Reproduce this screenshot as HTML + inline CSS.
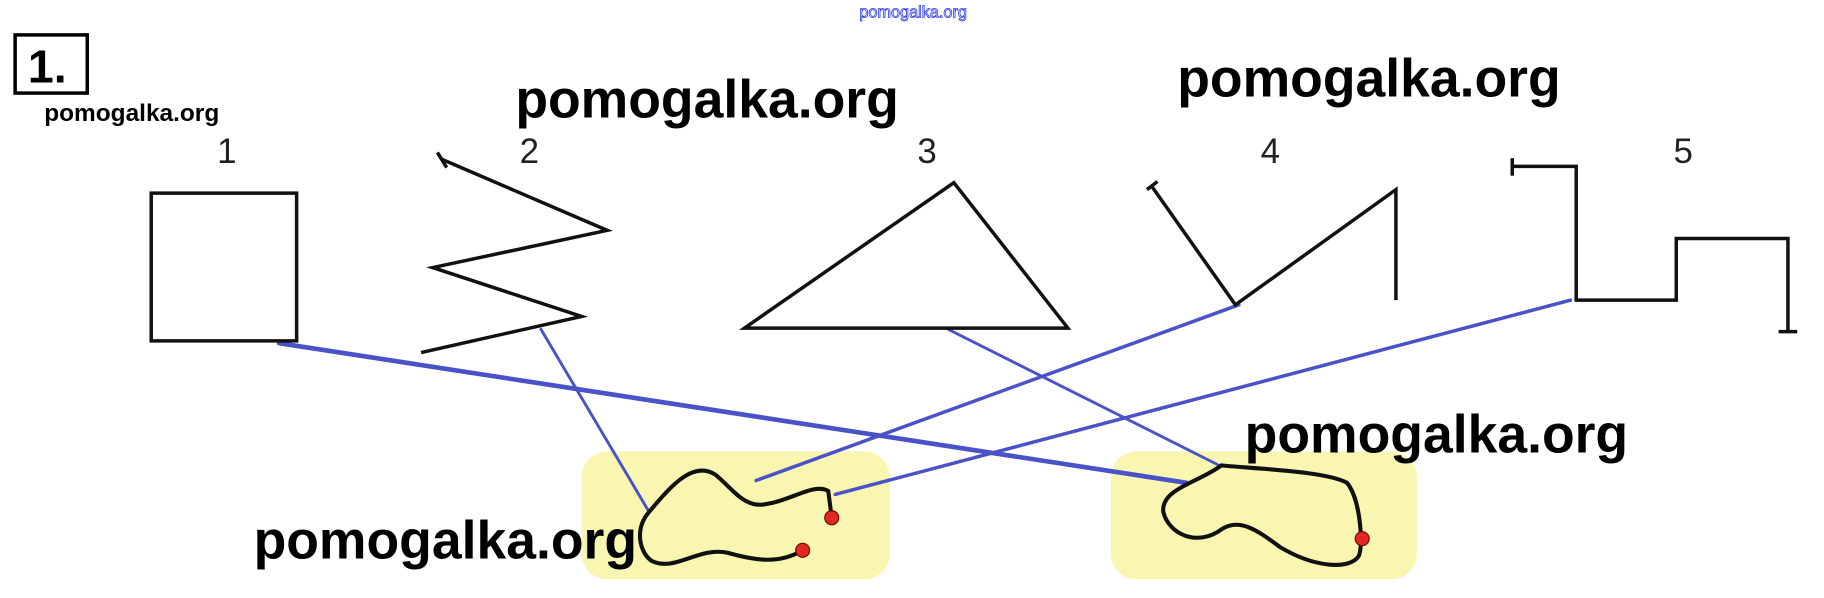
<!DOCTYPE html>
<html><head><style>
html,body{margin:0;padding:0;background:#fff;}
svg{display:block;}
</style></head><body>
<svg width="1824" height="598" viewBox="0 0 1568 514" preserveAspectRatio="none" xmlns="http://www.w3.org/2000/svg">
<rect width="1568" height="514" fill="#fff"/>
<rect x="500" y="388" width="265" height="110" rx="22" fill="#f8f6b0"/>
<rect x="955" y="388" width="263" height="110" rx="22" fill="#f8f6b0"/>
<g stroke="#4a52c8" fill="none" stroke-linecap="round">
<line x1="240" y1="295" x2="1020" y2="415" stroke-width="4"/>
<line x1="465" y1="283" x2="558" y2="440" stroke-width="2.5"/>
<line x1="815" y1="283" x2="1048" y2="400" stroke-width="2.5"/>
<line x1="1065" y1="262" x2="650" y2="413" stroke-width="3"/>
<line x1="1350" y1="258" x2="718" y2="425" stroke-width="3"/>
</g>
<g stroke="#111" stroke-width="3" fill="none">
<rect x="130" y="166" width="125" height="127"/>
<polyline points="380,137 522,198 372,230 500,272 362,303"/>
<line x1="376" y1="131" x2="384" y2="144"/>
<polygon points="820,157 918,282 640,282"/>
<polyline points="990,160 1062,262 1200,163 1200,258"/>
<line x1="986" y1="163" x2="995" y2="156"/>
<polyline points="1300,143 1355,143 1355,258 1441,258 1441,205 1537,205 1537,285"/>
<line x1="1300" y1="136" x2="1300" y2="151"/>
<line x1="1529" y1="285" x2="1545" y2="285"/>
</g>
<g stroke="#111" stroke-width="3.5" fill="none">
<path d="M558,440 C545,455 550,475 560,482 C580,492 600,470 625,475 C650,482 670,485 690,473"/>
<path d="M558,440 C575,420 595,395 615,408 C630,420 640,438 660,433 C680,430 700,415 712,422 L715,445"/>
<path d="M1050,400 C1080,403 1140,405 1158,415 C1170,430 1172,470 1168,478 C1160,490 1130,488 1100,470 C1080,455 1065,445 1050,455 C1030,470 1005,460 1000,440 C998,420 1030,415 1050,400 Z"/>
</g>
<g fill="#e02a20" stroke="#700" stroke-width="1">
<circle cx="715" cy="445" r="6"/>
<circle cx="690" cy="473" r="6"/>
<circle cx="1171" cy="463" r="6"/>
</g>
<g font-family="Liberation Sans, sans-serif" font-size="30" fill="#222" text-anchor="middle">
<text x="195" y="140">1</text>
<text x="455" y="140">2</text>
<text x="797" y="140">3</text>
<text x="1092" y="140">4</text>
<text x="1447" y="140">5</text>
</g>
<rect x="13" y="30" width="62" height="50" fill="none" stroke="#000" stroke-width="3"/>
<text x="24" y="71" font-family="Liberation Sans, sans-serif" font-weight="bold" font-size="40" fill="#000">1.</text>
<text x="785" y="15" font-family="Liberation Sans, sans-serif" font-size="14" fill="none" stroke="#3340e0" stroke-width="0.7" text-anchor="middle">pomogalka.org</text>
<g font-family="Liberation Sans, sans-serif" font-weight="bold" fill="#000">
<text x="38" y="104" font-size="21">pomogalka.org</text>
<text x="443" y="101" font-size="46">pomogalka.org</text>
<text x="1012" y="83" font-size="46">pomogalka.org</text>
<text x="1070" y="389" font-size="46">pomogalka.org</text>
<text x="218" y="480" font-size="46">pomogalka.org</text>
</g>
</svg>
</body></html>
